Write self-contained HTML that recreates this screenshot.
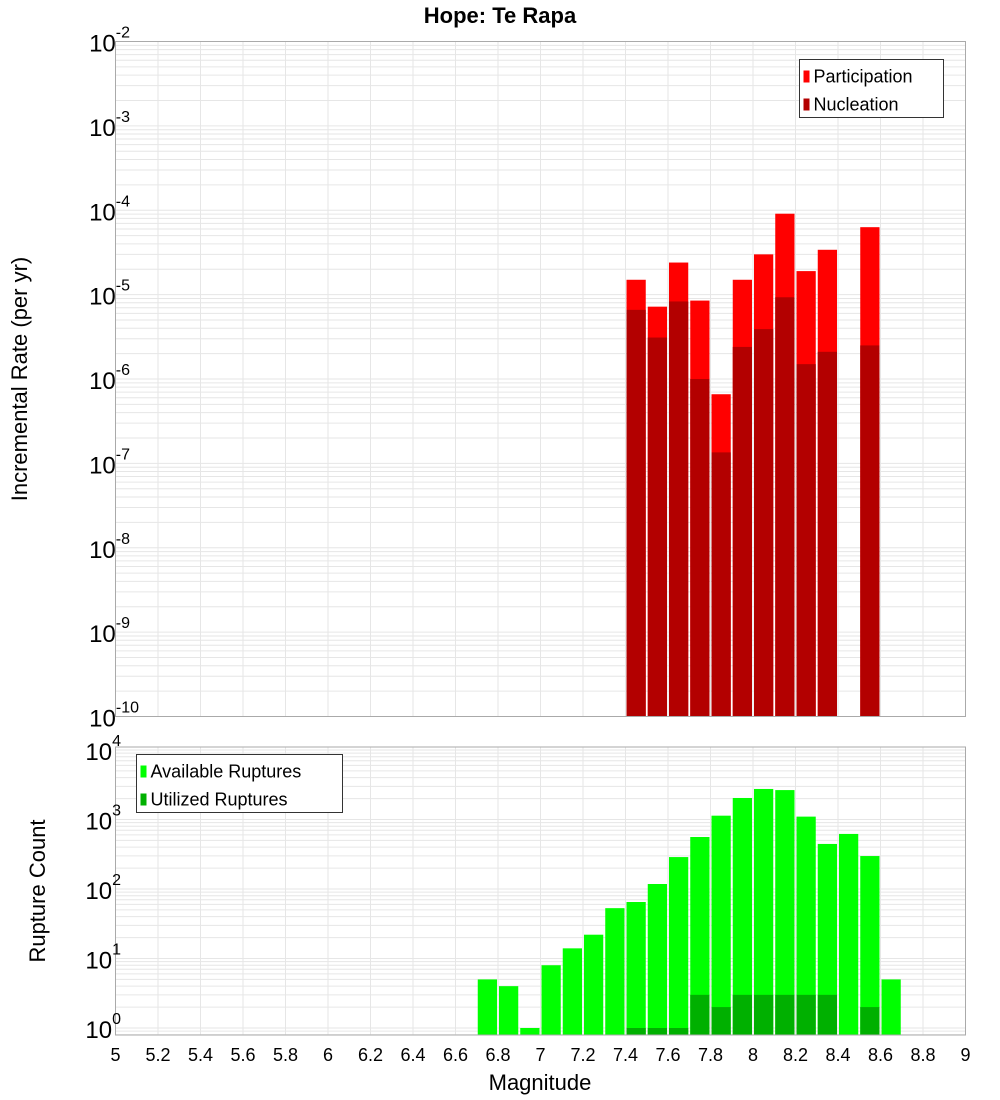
<!DOCTYPE html>
<html><head><meta charset="utf-8"><style>
body{margin:0;background:#fff;}
svg{display:block;font-family:"Liberation Sans","DejaVu Sans",sans-serif;}
</style></head><body>
<svg id="c" width="1000" height="1100"></svg>
<script>
const bins = [6.75,6.85,6.95,7.05,7.15,7.25,7.35,7.45,7.55,7.65,7.75,7.85,7.95,8.05,8.15,8.25,8.35,8.45,8.55,8.65];
const participation = [0,0,0,0,0,0,0,1.5e-5,7.2e-6,2.4e-5,8.5e-6,6.6e-7,1.5e-5,3.0e-5,9.1e-5,1.9e-5,3.4e-5,0,6.3e-5,0];
const nucleation = [0,0,0,0,0,0,0,6.6e-6,3.1e-6,8.3e-6,1.0e-6,1.35e-7,2.4e-6,3.9e-6,9.3e-6,1.5e-6,2.1e-6,0,2.5e-6,0];
const available = [5,4,1,8,14,22,53,65,118,288,560,1135,2040,2750,2650,1100,445,620,298,5];
const utilized = [0,0,0,0,0,0,0,1,1,1,3,2,3,3,3,3,3,0,2,0];
const xTicks = ["5","5.2","5.4","5.6","5.8","6","6.2","6.4","6.6","6.8","7","7.2","7.4","7.6","7.8","8","8.2","8.4","8.6","8.8","9"];
const topExps = [-2,-3,-4,-5,-6,-7,-8,-9,-10];
const botExps = [4,3,2,1,0];

const NS="http://www.w3.org/2000/svg", svg=document.getElementById('c');
function el(t,a,p){const e=document.createElementNS(NS,t);for(const k in a)e.setAttribute(k,a[k]);(p||svg).appendChild(e);return e;}
const L=115.5,R=965.5;
const x=v=>L+(v-5)*(R-L)/4;
const T1=41.5,B1=716.5;
const y1=v=>T1+(-2-Math.log10(v))*(B1-T1)/8;
const T2=747,B2=1035;
const y2=v=>1028-Math.log10(v)*69.5;

function grid(top,bot,yf,lo,hi){
  for(let e=lo;e<hi;e++)for(let m=1;m<10;m++){const yy=yf(m*Math.pow(10,e));if(yy<top||yy>bot)continue;
    const g=el('line',{x1:L,x2:R,y1:yy,y2:yy,stroke:'#e6e6e6','stroke-width':1});
    
    }
  for(let i=1;i<20;i++){const xx=x(5+i*0.2);
    const g=el('line',{x1:xx,x2:xx,y1:top,y2:bot,stroke:'#e6e6e6','stroke-width':1});
    
    }
}
grid(T1,B1,y1,-10,-2);
grid(T2,B2,y2,-1,5);

const bw=(R-L)/40, gap=1;
bins.forEach((b,i)=>{
  const x0=x(b)-bw/2+gap, w=bw-2*gap;
  if(participation[i]>0){const r=el('rect',{x:x0,y:y1(participation[i]),width:w,height:B1-y1(participation[i]),fill:'#ff0000'});
    
    }
  if(nucleation[i]>0){const r=el('rect',{x:x0,y:y1(nucleation[i]),width:w,height:B1-y1(nucleation[i]),fill:'#b30000'});
    
    }
  if(available[i]>0){const r=el('rect',{x:x0,y:y2(available[i]),width:w,height:B2-y2(available[i]),fill:'#00ff00'});
    
    }
  if(utilized[i]>0){const r=el('rect',{x:x0,y:y2(utilized[i]),width:w,height:B2-y2(utilized[i]),fill:'#00b000'});
    
    }
});

el('rect',{x:L,y:T1,width:R-L,height:B1-T1,fill:'none',stroke:'#aaa'});
el('rect',{x:L,y:T2,width:R-L,height:B2-T2,fill:'none',stroke:'#aaa'});

function powLabel(yy,e,name){
  const t=el('text',{x:110,y:yy+10,'text-anchor':'end','font-size':24,fill:'#000'});
  
  
  const a=el('tspan',{},t);a.textContent='10';
  const b=el('tspan',{dy:-14,'font-size':16},t);b.textContent=String(e);
  t.setAttribute('x',112+ (String(e).length)*9);
}
topExps.forEach(e=>powLabel(y1(Math.pow(10,e)),e,'y-tick-label'));
botExps.forEach(e=>powLabel(y2(Math.pow(10,e)),e,'y-tick-label-count'));

xTicks.forEach((s,i)=>{const t=el('text',{x:x(+s),y:1061,'text-anchor':'middle','font-size':18});t.textContent=s;
  
  });

let t=el('text',{x:500,y:23,'text-anchor':'middle','font-size':22,'font-weight':'bold'});t.textContent='Hope: Te Rapa';

t=el('text',{x:540,y:1090,'text-anchor':'middle','font-size':22});t.textContent='Magnitude';

t=el('text',{x:0,y:0,'text-anchor':'middle','font-size':22,transform:'translate(27,379) rotate(-90)'});t.textContent='Incremental Rate (per yr)';

t=el('text',{x:0,y:0,'text-anchor':'middle','font-size':22,transform:'translate(45,891) rotate(-90)'});t.textContent='Rupture Count';


function legend(x0,y0,w,items,name){
  const g=el('g',{});
  el('rect',{x:x0,y:y0,width:w,height:58,fill:'#fff',stroke:'#333','stroke-width':1},g);
  items.forEach((it,i)=>{
    el('rect',{x:x0+4,y:y0+11+i*28,width:6,height:12,fill:it[1]},g);
    const tt=el('text',{x:x0+14,y:y0+23+i*28,'font-size':18},g);tt.textContent=it[0];
  });
}
legend(799.5,59.5,144,[['Participation','#ff0000'],['Nucleation','#b30000']],'legend-rate');
legend(136.5,754.5,206,[['Available Ruptures','#00ff00'],['Utilized Ruptures','#00b000']],'legend-count');
</script>
</body></html>
